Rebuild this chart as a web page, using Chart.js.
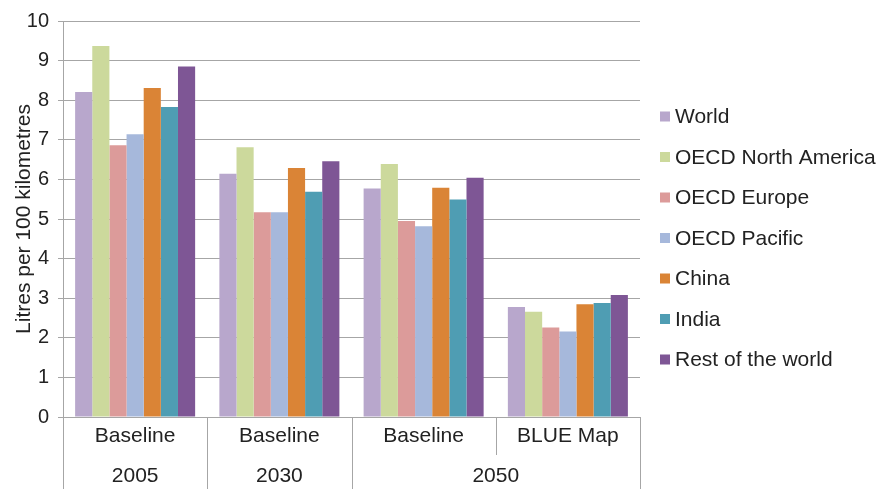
<!DOCTYPE html>
<html>
<head>
<meta charset="utf-8">
<script src="https://cdn.jsdelivr.net/npm/chart.js@4.4.1/dist/chart.umd.min.js"></script>
<style>
  html, body { margin: 0; padding: 0; background: #ffffff; }
  #wrap { width: 882px; height: 489px; position: relative; }
</style>
</head>
<body>
<div id="wrap"><canvas id="chart"></canvas></div>
<script>
// Fuel economy of new light-duty vehicles, litres per 100 km
const scenarios = ['Baseline', 'Baseline', 'Baseline', 'BLUE Map'];
const years = ['2005', '2030', '2050'];
const yearSpans = [1, 1, 2];           // how many scenario columns each year covers
const regions = ['World', 'OECD North America', 'OECD Europe', 'OECD Pacific', 'China', 'India', 'Rest of the world'];

const world        = [8.21, 6.14, 5.77, 2.78];
const northAmerica = [9.37, 6.81, 6.39, 2.66];
const europe       = [6.86, 5.17, 4.95, 2.26];
const pacific      = [7.14, 5.17, 4.82, 2.16];
const china        = [8.31, 6.29, 5.79, 2.85];
const india        = [7.83, 5.69, 5.49, 2.88];
const restOfWorld  = [8.85, 6.46, 6.04, 3.08];

const yMin = 0, yMax = 10, yStep = 1;

const seriesValues = [world, northAmerica, europe, pacific, china, india, restOfWorld];
const seriesColors = ['#b8a7cc', '#ccd99c', '#dc9b9a', '#a6b8db', '#da8436', '#4f9db3', '#7e5695'];

const FONT = 'Liberation Sans, Arial, Helvetica, sans-serif';
const TEXT = '#222222';
const LINE = '#a6a6a6';

// Two-level category axis: year row underneath and the separators between columns
const categoryFrame = {
  id: 'categoryFrame',
  afterDraw(chart) {
    const { ctx, chartArea, scales } = chart;
    const x = scales.x;
    const n = scenarios.length;
    const bottom = chart.height;
    const midRow = chartArea.bottom + 38;
    const edge = (i) => {
      if (i <= 0) return chartArea.left;
      if (i >= n) return chartArea.right;
      return (x.getPixelForValue(i - 1) + x.getPixelForValue(i)) / 2;
    };
    const yearEdges = new Set([0]);
    let acc = 0;
    yearSpans.forEach(s => { acc += s; yearEdges.add(acc); });

    ctx.save();
    ctx.strokeStyle = LINE;
    ctx.lineWidth = 1;
    for (let i = 0; i <= n; i++) {
      const px = Math.round(edge(i)) + 0.5;
      ctx.beginPath();
      ctx.moveTo(px, chartArea.bottom);
      ctx.lineTo(px, yearEdges.has(i) ? bottom : midRow);
      ctx.stroke();
    }

    ctx.fillStyle = TEXT;
    ctx.font = '21px ' + FONT;
    ctx.textAlign = 'center';
    ctx.textBaseline = 'middle';
    let start = 0;
    years.forEach((yr, k) => {
      const end = start + yearSpans[k];
      ctx.fillText(yr, (edge(start) + edge(end)) / 2, chartArea.bottom + 59);
      start = end;
    });
    ctx.restore();
  }
};

// Legend column to the right of the plot
const sideLegend = {
  id: 'sideLegend',
  afterDraw(chart) {
    const { ctx, chartArea } = chart;
    const boxX = chartArea.right + 20;
    const firstY = 116.5;
    const gap = 40.5;
    ctx.save();
    ctx.font = '21px ' + FONT;
    ctx.textBaseline = 'middle';
    ctx.textAlign = 'left';
    chart.data.datasets.forEach((ds, i) => {
      const cy = firstY + i * gap;
      ctx.fillStyle = ds.backgroundColor;
      ctx.fillRect(boxX, cy - 5, 10, 10);
      ctx.fillStyle = TEXT;
      ctx.fillText(ds.label, boxX + 15, cy + 1);
    });
    ctx.restore();
  }
};

new Chart(document.getElementById('chart'), {
  type: 'bar',
  data: {
    labels: scenarios,
    datasets: regions.map((name, i) => ({
      label: name,
      data: seriesValues[i],
      backgroundColor: seriesColors[i],
      borderWidth: 0,
      barPercentage: 1.0,
      categoryPercentage: 0.832
    }))
  },
  options: {
    responsive: true,
    maintainAspectRatio: false,
    animation: false,
    layout: { padding: { left: 0, top: 15, right: 242, bottom: 0 } },
    plugins: {
      legend: { display: false },
      tooltip: { enabled: false }
    },
    scales: {
      x: {
        grid: { display: false, drawTicks: false },
        border: { display: true, color: LINE, width: 1 },
        ticks: {
          color: TEXT,
          font: { family: FONT, size: 21 },
          padding: 7,
          maxRotation: 0,
          autoSkip: false
        },
        afterFit(scale) { scale.height = 72; }
      },
      y: {
        min: yMin,
        max: yMax,
        ticks: {
          stepSize: yStep,
          color: TEXT,
          font: { family: FONT, size: 20 },
          padding: 9
        },
        grid: { color: LINE, lineWidth: 1, tickLength: 5 },
        border: { display: true, color: LINE, width: 1 },
        title: {
          display: true,
          text: 'Litres per 100 kilometres',
          color: TEXT,
          font: { family: FONT, size: 21 },
          padding: { top: 12, bottom: 0 }
        },
        afterFit(scale) { scale.width = 63; }
      }
    }
  },
  plugins: [categoryFrame, sideLegend]
});
</script>
</body>
</html>
